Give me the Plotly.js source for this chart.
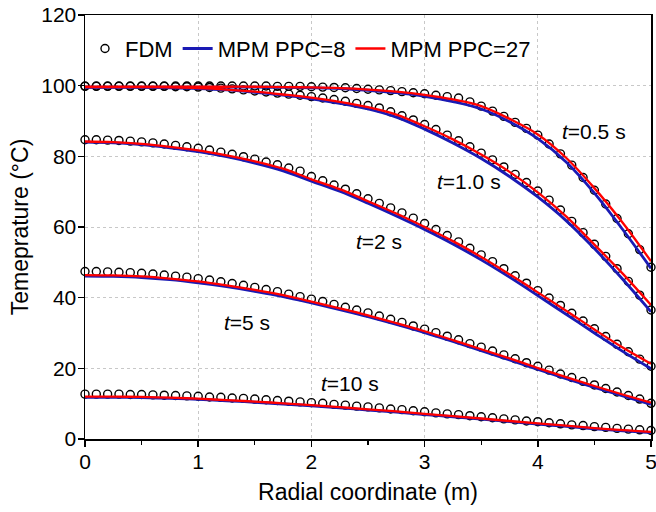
<!DOCTYPE html>
<html>
<head>
<meta charset="utf-8">
<script src="https://cdn.plot.ly/plotly-3.0.1.min.js"></script>
<style>html,body{margin:0;padding:0;background:#fff;}#chart{width:656px;height:512px;}</style>
</head>
<body>
<div id="chart"></div>
<script>
// FDM points, x = 0 to 5 step 0.1
const xFDM = [0.0,0.1,0.2,0.3,0.4,0.5,0.6,0.7,0.8,0.9,1.0,1.1,1.2,1.3,1.4,1.5,1.6,1.7,1.8,1.9,2.0,2.1,2.2,2.3,2.4,2.5,2.6,2.7,2.8,2.9,3.0,3.1,3.2,3.3,3.4,3.5,3.6,3.7,3.8,3.9,4.0,4.1,4.2,4.3,4.4,4.5,4.6,4.7,4.8,4.9,5.0];
const fdm_t05 = [99.9,99.9,99.9,99.9,99.9,99.9,99.9,99.9,99.9,99.9,99.9,99.9,99.9,99.9,99.9,99.9,99.9,99.8,99.8,99.8,99.7,99.6,99.5,99.4,99.2,99.0,98.8,98.6,98.3,98.0,97.7,97.3,96.9,96.5,95.4,94.2,92.8,91.3,89.6,87.9,86.0,83.5,80.7,77.5,74.0,70.4,66.5,62.4,58.1,53.6,48.6];
const fdm_t10 = [99.8,99.8,99.8,99.8,99.8,99.8,99.8,99.8,99.7,99.7,99.6,99.5,99.3,99.1,98.8,98.5,98.2,97.9,97.6,97.3,96.9,96.5,96.1,95.6,95.0,94.4,93.7,92.6,91.5,90.3,89.0,87.6,86.0,84.4,82.7,80.9,79.0,77.0,74.9,72.6,70.2,67.6,64.8,61.6,58.4,55.1,51.7,48.2,44.6,40.7,36.5];
const fdm_t2 = [84.7,84.7,84.6,84.5,84.3,84.1,83.8,83.5,83.1,82.7,82.3,81.8,81.2,80.6,79.9,79.2,78.4,77.6,76.7,75.8,74.3,73.1,71.9,70.7,69.4,68.0,66.7,65.4,64.0,62.5,61.0,59.3,57.6,55.8,54.0,52.1,50.2,48.2,46.2,44.1,42.0,39.9,37.8,35.6,33.4,31.2,29.0,26.8,24.7,22.6,20.6];
const fdm_t5 = [47.4,47.4,47.3,47.2,47.1,46.9,46.7,46.4,46.1,45.8,45.4,45.0,44.5,44.0,43.5,42.9,42.3,41.7,41.0,40.3,39.6,38.9,38.1,37.3,36.5,35.7,34.8,33.9,33.0,32.0,31.1,30.1,29.1,28.1,27.0,26.0,24.9,23.8,22.7,21.6,20.6,19.5,18.4,17.4,16.3,15.3,14.3,13.3,12.3,11.3,10.1];
const fdm_t10s = [12.7,12.7,12.7,12.7,12.6,12.6,12.5,12.4,12.3,12.2,12.1,11.9,11.8,11.6,11.5,11.3,11.1,10.9,10.7,10.5,10.3,10.1,9.8,9.6,9.3,9.1,8.8,8.5,8.3,8.0,7.7,7.4,7.1,6.9,6.6,6.3,6.0,5.7,5.4,5.1,4.9,4.6,4.3,4.0,3.8,3.5,3.3,3.0,2.8,2.6,2.4];

// MPM curves, x = 0 to 5 step 0.25
const xMPM = [0,0.25,0.5,0.75,1.0,1.25,1.5,1.75,2.0,2.25,2.5,2.75,3.0,3.25,3.5,3.75,4.0,4.25,4.5,4.75,5.0];
const ppc8_t05 = [99.6,99.6,99.6,99.6,99.6,99.6,99.6,99.5,99.4,99.2,98.7,98.0,97.0,95.5,93.4,89.8,85.0,78.4,69.6,59.3,48.3];
const ppc8_t10 = [99.5,99.5,99.5,99.4,99.2,98.8,98.1,97.3,96.3,95.0,93.4,91.1,87.7,83.8,79.4,74.3,68.5,61.8,53.9,45.2,36.0];
const ppc8_t2 = [84.0,83.8,83.3,82.4,81.3,79.9,78.1,75.9,73.0,70.1,66.7,63.1,59.3,55.2,50.7,45.8,40.6,35.3,30.0,24.8,19.9];
const ppc8_t5 = [46.1,46.0,45.7,45.1,44.2,43.1,41.8,40.3,38.5,36.6,34.6,32.4,30.1,27.6,25.0,22.4,19.7,17.1,14.6,12.2,9.8];
const ppc8_t10s = [11.8,11.8,11.7,11.5,11.2,10.8,10.4,9.9,9.4,8.8,8.2,7.6,6.9,6.3,5.6,4.9,4.2,3.6,2.9,2.3,1.8];
const ppc27_t05 = [99.7,99.7,99.7,99.7,99.7,99.7,99.7,99.6,99.5,99.3,98.9,98.3,97.4,96.1,94.2,90.6,86.2,79.6,71.0,61.2,50.3];
const ppc27_t10 = [99.6,99.6,99.6,99.5,99.3,98.9,98.3,97.5,96.6,95.4,93.9,91.8,88.5,84.8,80.5,75.6,69.8,63.0,55.0,46.8,37.9];
const ppc27_t2 = [84.2,84.0,83.5,82.7,81.7,80.3,78.6,76.5,73.5,70.7,67.3,63.8,60.0,56.0,51.5,46.6,41.5,36.3,31.0,25.9,21.3];
const ppc27_t5 = [46.4,46.3,46.0,45.4,44.6,43.5,42.2,40.7,38.9,37.0,35.0,32.8,30.5,28.0,25.4,22.8,20.1,17.5,15.0,12.6,10.3];
const ppc27_t10s = [12.0,12.0,11.9,11.7,11.4,11.0,10.6,10.1,9.6,9.0,8.4,7.8,7.1,6.5,5.8,5.1,4.4,3.8,3.1,2.5,2.0];

const labels = ["t=0.5 s","t=1.0 s","t=2 s","t=5 s","t=10 s"];
const labelX = [4.5, 3.39, 2.6, 1.43, 2.34];
const labelY = [87.0, 72.9, 55.8, 33.1, 15.7];

const fdmSets = [fdm_t05, fdm_t10, fdm_t2, fdm_t5, fdm_t10s];
const ppc8Sets = [ppc8_t05, ppc8_t10, ppc8_t2, ppc8_t5, ppc8_t10s];
const ppc27Sets = [ppc27_t05, ppc27_t10, ppc27_t2, ppc27_t5, ppc27_t10s];

const FONT = 'Liberation Sans, Arial, sans-serif';
const traces = [];
fdmSets.forEach((ys, i) => traces.push({
  x: xFDM, y: ys, type: 'scatter', mode: 'markers', name: 'FDM',
  legendgroup: 'fdm', showlegend: i === 0,
  marker: {symbol: 'circle-open', size: 8, color: '#000', line: {width: 1.4, color: '#000'}},
  cliponaxis: false
}));
ppc8Sets.forEach((ys, i) => traces.push({
  x: xMPM, y: ys, type: 'scatter', mode: 'lines', name: 'MPM PPC=8',
  legendgroup: 'p8', showlegend: i === 0,
  line: {color: '#1a1ab4', width: 2.8, shape: 'spline'}
}));
ppc27Sets.forEach((ys, i) => traces.push({
  x: xMPM, y: ys, type: 'scatter', mode: 'lines', name: 'MPM PPC=27',
  legendgroup: 'p27', showlegend: i === 0,
  line: {color: '#ff0000', width: 2.3, shape: 'spline'}
}));

const annotations = labels.map((t, i) => ({
  x: labelX[i], y: labelY[i], xref: 'x', yref: 'y', showarrow: false,
  text: '<i>t</i>' + t.slice(1),
  font: {family: FONT, size: 21, color: '#000'}
}));

const layout = {
  width: 656, height: 512,
  margin: {l: 85, r: 5, t: 15, b: 73},
  paper_bgcolor: '#fff', plot_bgcolor: '#fff',
  font: {family: FONT, size: 21, color: '#000'},
  showlegend: true,
  legend: {orientation: 'h', x: 0.0, y: 0.97, xanchor: 'left', yanchor: 'top',
           bgcolor: 'rgba(0,0,0,0)', font: {size: 22}, traceorder: 'normal'},
  xaxis: {
    range: [0, 5], tickvals: [0,1,2,3,4,5], showline: true, mirror: true,
    linecolor: '#000', linewidth: 1.5, ticks: 'outside', ticklen: 6, tickwidth: 1.5, tickcolor: '#000',
    minor: {dtick: 0.5, ticks: 'outside', ticklen: 4, tickwidth: 1.2, tickcolor: '#000', showgrid: false},
    showgrid: true, gridcolor: '#c8c8c8', griddash: 'dot', gridwidth: 1, zeroline: false,
    tickfont: {size: 21}, ticklabeloverflow: 'allow', ticklabelstandoff: -3,
    title: {text: 'Radial coordinate (m)', font: {size: 23}, standoff: 12}
  },
  yaxis: {
    range: [0, 120], tickvals: [0,20,40,60,80,100,120], showline: true, mirror: true,
    linecolor: '#000', linewidth: 1.5, ticks: 'outside', ticklen: 6, tickwidth: 1.5, tickcolor: '#000',
    showgrid: true, gridcolor: '#c8c8c8', griddash: 'dot', gridwidth: 1, zeroline: false,
    tickfont: {size: 21}, ticklabelstandoff: -3,
    title: {text: 'Temeprature (°C)', font: {size: 23}, standoff: 6}
  },
  annotations: annotations
};

Plotly.newPlot('chart', traces, layout, {displayModeBar: false, staticPlot: true});
</script>
</body>
</html>
